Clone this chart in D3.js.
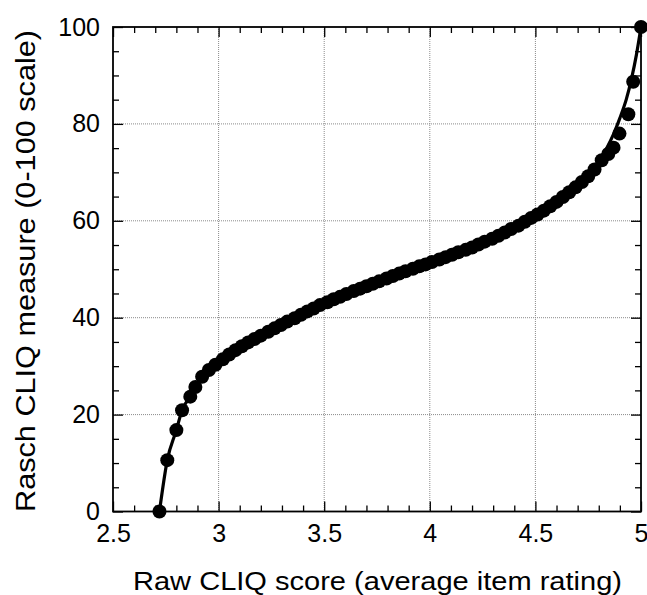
<!DOCTYPE html>
<html>
<head>
<meta charset="utf-8">
<script src="https://cdn.jsdelivr.net/npm/d3@7"></script>
<style>
  body { margin: 0; background: #fff; }
  svg { display: block; }
  text { font-family: "Liberation Sans", Arial, sans-serif; fill: #000; }
</style>
</head>
<body>
<div id="chart"></div>
<script>
let rawScores = [2.72, 2.757, 2.80, 2.827, 2.866, 2.89, 2.922, 2.954, 2.985, 3.02,
  3.05, 3.08, 3.11, 3.14, 3.17, 3.20, 3.235, 3.265, 3.295, 3.325,
  3.36, 3.39, 3.42, 3.45, 3.48, 3.515, 3.545, 3.575, 3.605, 3.64,
  3.67, 3.70, 3.73, 3.76, 3.795, 3.825, 3.855, 3.885, 3.92, 3.95,
  3.98, 4.01, 4.045, 4.075, 4.105, 4.135, 4.17, 4.20, 4.23, 4.26,
  4.295, 4.325, 4.355, 4.385, 4.42, 4.45, 4.48, 4.51, 4.54, 4.57,
  4.60, 4.63, 4.66, 4.69, 4.72, 4.75, 4.78, 4.814, 4.845, 4.87,
  4.898, 4.94, 4.963, 5.0];
let raschScores = [0, 10.6, 16.8, 20.9, 23.7, 25.7, 27.8, 29.2, 30.3, 31.4,
  32.4, 33.3, 34.1, 34.9, 35.6, 36.3, 37.1, 37.8, 38.5, 39.2,
  39.9, 40.6, 41.3, 41.9, 42.6, 43.2, 43.8, 44.3, 44.9, 45.5,
  46.0, 46.5, 47.0, 47.5, 48.1, 48.6, 49.1, 49.6, 50.1, 50.6,
  51.0, 51.5, 52.0, 52.5, 53.0, 53.5, 54.0, 54.5, 55.1, 55.7,
  56.3, 56.9, 57.6, 58.3, 59.0, 59.8, 60.6, 61.3, 62.1, 63.0,
  63.9, 64.9, 65.9, 66.9, 68.0, 69.2, 70.6, 72.5, 73.8, 75.1,
  78.0, 82.0, 88.7, 100];

// fitted curve
let curveRaw = [2.72, 2.757, 2.80, 2.827, 2.866, 2.922, 3.0, 3.1, 3.25, 3.5,
  3.75, 4.0, 4.25, 4.5, 4.65, 4.70, 4.75, 4.78, 4.81, 4.84,
  4.87, 4.90, 4.93, 4.955, 4.978, 5.0];
let curveRasch = [0, 10.6, 16.8, 20.9, 23.7, 27.8, 30.8, 33.8, 37.5, 43.0,
  47.4, 51.3, 55.8, 61.2, 65.6, 67.4, 69.6, 71.0, 72.9, 75.2,
  77.9, 81.2, 85.0, 89.3, 94.2, 100];

let xMajor = [2.5, 3, 3.5, 4, 4.5, 5];
let yMajor = [0, 20, 40, 60, 80, 100];
let xMinor = [2.6, 2.7, 2.8, 2.9, 3.1, 3.2, 3.3, 3.4, 3.6, 3.7, 3.8, 3.9, 4.1, 4.2, 4.3, 4.4, 4.6, 4.7, 4.8, 4.9];
let yMinor = [5, 10, 15, 25, 30, 35, 45, 50, 55, 65, 70, 75, 85, 90, 95];

let xTitle = "Raw CLIQ score (average item rating)";
let yTitle = "Rasch CLIQ measure (0-100 scale)";

let width = 647, height = 595;
let margin = { top: 27, right: 6, bottom: 83.5, left: 113 };
let plotW = width - margin.left - margin.right;
let plotH = height - margin.top - margin.bottom;

let svg = d3.select("#chart").append("svg")
  .attr("width", width)
  .attr("height", height);

let g = svg.append("g").attr("transform", "translate(" + margin.left + "," + margin.top + ")");

let x = d3.scaleLinear().domain([2.5, 5]).range([0, plotW]);
let y = d3.scaleLinear().domain([0, 100]).range([plotH, 0]);

// dotted grid
g.append("g").selectAll("line")
  .data(xMajor.slice(1, -1)).enter().append("line")
  .attr("x1", d => x(d)).attr("x2", d => x(d))
  .attr("y1", 0).attr("y2", plotH)
  .attr("stroke", "#8a8a8a").attr("stroke-width", 1).attr("stroke-dasharray", "1,1");
g.append("g").selectAll("line")
  .data(yMajor.slice(1, -1)).enter().append("line")
  .attr("x1", 0).attr("x2", plotW)
  .attr("y1", d => y(d)).attr("y2", d => y(d))
  .attr("stroke", "#8a8a8a").attr("stroke-width", 1).attr("stroke-dasharray", "1,1");

// axes with inward ticks, mirrored on top and right
function styleAxis(sel) {
  sel.selectAll(".domain").remove();
  sel.selectAll(".tick line").attr("stroke", "#000").attr("stroke-width", 1.3);
  sel.selectAll("text").style("font-size", "25px").attr("fill", "#000");
}

g.append("g").attr("transform", "translate(0," + plotH + ")")
  .call(d3.axisBottom(x).tickValues(xMajor).tickSize(-10).tickPadding(13).tickFormat(d3.format("")))
  .call(styleAxis);
g.append("g").attr("transform", "translate(0," + plotH + ")")
  .call(d3.axisBottom(x).tickValues(xMinor).tickSize(-6).tickFormat(""))
  .call(styleAxis);
g.append("g")
  .call(d3.axisTop(x).tickValues(xMajor).tickSize(-10).tickFormat(""))
  .call(styleAxis);
g.append("g")
  .call(d3.axisTop(x).tickValues(xMinor).tickSize(-6).tickFormat(""))
  .call(styleAxis);

g.append("g")
  .call(d3.axisLeft(y).tickValues(yMajor).tickSize(-10).tickPadding(13))
  .call(styleAxis);
g.append("g")
  .call(d3.axisLeft(y).tickValues(yMinor).tickSize(-6).tickFormat(""))
  .call(styleAxis);
g.append("g").attr("transform", "translate(" + plotW + ",0)")
  .call(d3.axisRight(y).tickValues(yMajor).tickSize(-10).tickFormat(""))
  .call(styleAxis);
g.append("g").attr("transform", "translate(" + plotW + ",0)")
  .call(d3.axisRight(y).tickValues(yMinor).tickSize(-6).tickFormat(""))
  .call(styleAxis);

// frame
g.append("rect")
  .attr("width", plotW).attr("height", plotH)
  .attr("fill", "none").attr("stroke", "#000").attr("stroke-width", 1.8);

// fitted curve
let line = d3.line()
  .x((d, i) => x(curveRaw[i]))
  .y((d, i) => y(curveRasch[i]))
  .curve(d3.curveMonotoneX);
g.append("path")
  .attr("d", line(curveRaw))
  .attr("fill", "none")
  .attr("stroke", "#000")
  .attr("stroke-width", 3.2)
  .attr("stroke-linejoin", "round");

// observed points
g.append("g").selectAll("circle")
  .data(rawScores).enter().append("circle")
  .attr("cx", d => x(d))
  .attr("cy", (d, i) => y(raschScores[i]))
  .attr("r", 7)
  .attr("fill", "#000");

// axis titles, stretched to the width they take in the figure
svg.append("text")
  .attr("x", 377.5)
  .attr("y", 590)
  .attr("text-anchor", "middle")
  .attr("textLength", 489)
  .attr("lengthAdjust", "spacingAndGlyphs")
  .style("font-size", "25px")
  .text(xTitle);
svg.append("text")
  .attr("transform", "translate(35,271) rotate(-90)")
  .attr("text-anchor", "middle")
  .attr("textLength", 482)
  .attr("lengthAdjust", "spacingAndGlyphs")
  .style("font-size", "27px")
  .text(yTitle);
</script>
</body>
</html>
